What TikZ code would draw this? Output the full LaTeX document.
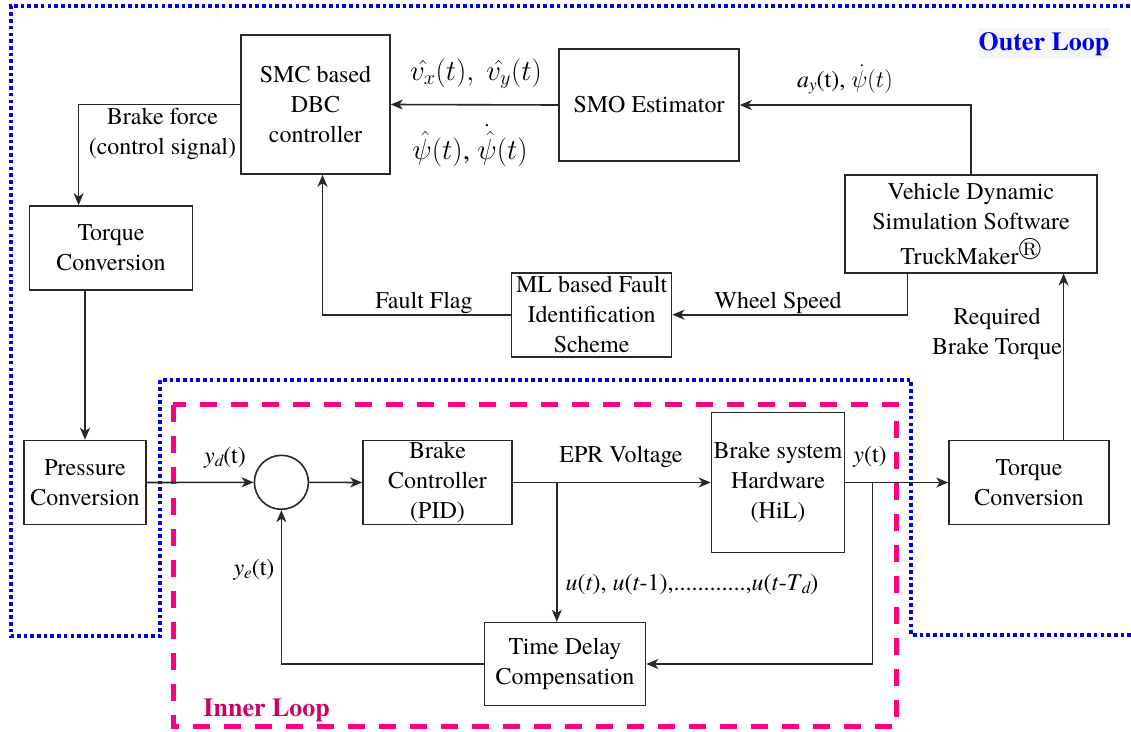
\RequirePackage{fix-cm}
\documentclass[tikz,border=0pt]{standalone}
\usepackage{amssymb}
\usepackage{fontspec}
\setmainfont{texgyretermes}[Extension=.otf, UprightFont=*-regular, BoldFont=*-bold, ItalicFont=*-italic, BoldItalicFont=*-bolditalic]
\usetikzlibrary{arrows.meta,calc}
\definecolor{outerblue}{RGB}{0,0,240}
\definecolor{innerpink}{RGB}{255,0,128}
\definecolor{innertext}{RGB}{204,0,102}
\definecolor{olbg}{RGB}{244,246,250}
\definecolor{linecol}{RGB}{40,40,40}
\newcommand\lsub[1]{\raisebox{-0.35ex}{\fontsize{17}{17}\selectfont\itshape #1}}
\tikzset{
  txt/.style={font=\rmfamily\fontsize{24}{30}\selectfont},
  box/.style={txt, draw=linecol, line width=1.6pt, align=center, inner sep=0pt},
  lbl/.style={txt, inner sep=0pt, align=center},
  arr/.style={draw=linecol, line width=1.6pt, -{Stealth[length=12pt,width=10pt,inset=3.5pt]}},
  outerloop/.style={draw=outerblue, line width=3.6pt, dash pattern=on 3.6pt off 3.1pt},
  innerloop/.style={draw=innerpink, line width=5pt, dash pattern=on 17pt off 14pt},
}
\begin{document}
\begin{tikzpicture}[x=1pt,y=-1pt]
\useasboundingbox (0,0) rectangle (1131,731);
\begin{scope}
\clip (0,0) rectangle (1131,731);
% outer loop (dotted)
\draw[outerloop] (1150,6) -- (10.7,6) -- (10.7,636) -- (160,636) -- (160,380) -- (911,380) -- (911,635) -- (1150,635);
% inner loop (dashed)
\draw[innerloop] (173,404.7) rectangle (896.8,726);
\end{scope}

% blocks
\node[box, minimum width=149, minimum height=139] (smc) at (315.5,104.5) {SMC based\\DBC\\controller};
\node[box, minimum width=180, minimum height=112] (smo) at (649,105) {SMO Estimator};
\node[box, minimum width=252, minimum height=98] (veh) at (971,223.7) {Vehicle Dynamic\\Simulation Software\\[5pt]TruckMaker$^{\circledR}$};
\node[box, minimum width=160, minimum height=84] (ml) at (591.6,314.7) {ML based Fault\\Identification\\Scheme};
\node[box, minimum width=163, minimum height=84] (tql) at (111,248) {Torque\\Conversion};
\node[box, minimum width=122, minimum height=84] (pc) at (85,482.5) {Pressure\\Conversion};
\node[draw=linecol, line width=1.6pt, circle, minimum size=54, inner sep=0pt] (sum) at (281.4,482.3) {};
\node[box, minimum width=149, minimum height=84] (bc) at (437.5,482.5) {Brake\\Controller\\(PID)};
\node[box, minimum width=133, minimum height=140] (bs) at (778,482.5) {Brake system\\Hardware\\(HiL)};
\node[box, minimum width=160, minimum height=84] (tqr) at (1029,482.5) {Torque\\Conversion};
\node[box, minimum width=161, minimum height=83] (td) at (565,664) {Time Delay\\Compensation};

% connectors
\draw[arr] (smo.west) -- (smc.east);
\draw[arr] (veh.north) |- (smo.east);
\draw[arr] (smc.west) -| ([xshift=-32.4pt]tql.north);
\draw[arr] (pc.north |- tql.south) -- (pc.north);
\draw[arr] (pc.east) -- (sum.west);
\draw[arr] (sum.east) -- (bc.west);
\draw[arr] (bc.east) -- (bs.west);
\coordinate (b1) at ([xshift=44pt]bc.east);
\draw[arr] (b1) -- (b1 |- td.north);
\draw[arr] (bs.east) -- (tqr.west);
\coordinate (b2) at ([xshift=27pt]bs.east);
\draw[arr] (b2) |- (td.east);
\draw[arr] (td.west) -| (sum.south);
\draw[arr] ([xshift=34.6pt]tqr.north) -- ([xshift=34.6pt]tqr.north |- veh.south);
\draw[arr] ([xshift=-63.5pt]veh.south) |- (ml.east);
\draw[arr] (ml.west) -| ([xshift=7pt]smc.south);

% labels
\node[lbl] (lbf) at (162.5,134) {Brake force\\(control signal)};
\node[lbl, anchor=base] (lvx) at (476,80) {\fontsize{29}{30}\selectfont$\hat{v_x}(t),\ \hat{v_y}(t)$};
\node[lbl, anchor=base] (lpsi) at (470,159) {\fontsize{29}{30}\selectfont$\hat{\psi}(t)$, $\dot{\hat{\psi}}(t)$};
\node[lbl, anchor=base] (lay) at (845,87) {\fontsize{24}{30}\selectfont\textit{a}\lsub{y}(t), $\dot{\psi}(t)$};
\node[lbl, anchor=base] (lff) at (424,308) {Fault Flag};
\node[lbl, anchor=base] (lws) at (778,308) {Wheel Speed};
\node[lbl] (lrbt) at (997,334) {Required\\Brake Torque};
\node[lbl, anchor=base] (lyd) at (225,463) {\textit{y}\lsub{d}(t)};
\node[lbl, anchor=base] (lye) at (254,575) {\textit{y}\lsub{e}(t)};
\node[lbl, anchor=base] (lepr) at (621,462.5) {EPR Voltage};
\node[lbl, anchor=base] (ly) at (870,462) {\textit{y}(t)};
\node[lbl, anchor=base] (lu) at (692,590) {\textit{u}(\textit{t}), \textit{u}(\textit{t}-1),............,\textit{u}(\textit{t}-\textit{T}\lsub{d})};
\node[lbl, anchor=base, fill=olbg, inner xsep=1pt, inner ysep=4pt, text=outerblue, font=\rmfamily\fontsize{26}{30}\selectfont\bfseries] (lol) at (1044,50) {Outer Loop};
\node[lbl, anchor=base, text=innertext, font=\rmfamily\fontsize{26}{30}\selectfont\bfseries] (lil) at (266.7,716) {Inner Loop};
\end{tikzpicture}
\end{document}
